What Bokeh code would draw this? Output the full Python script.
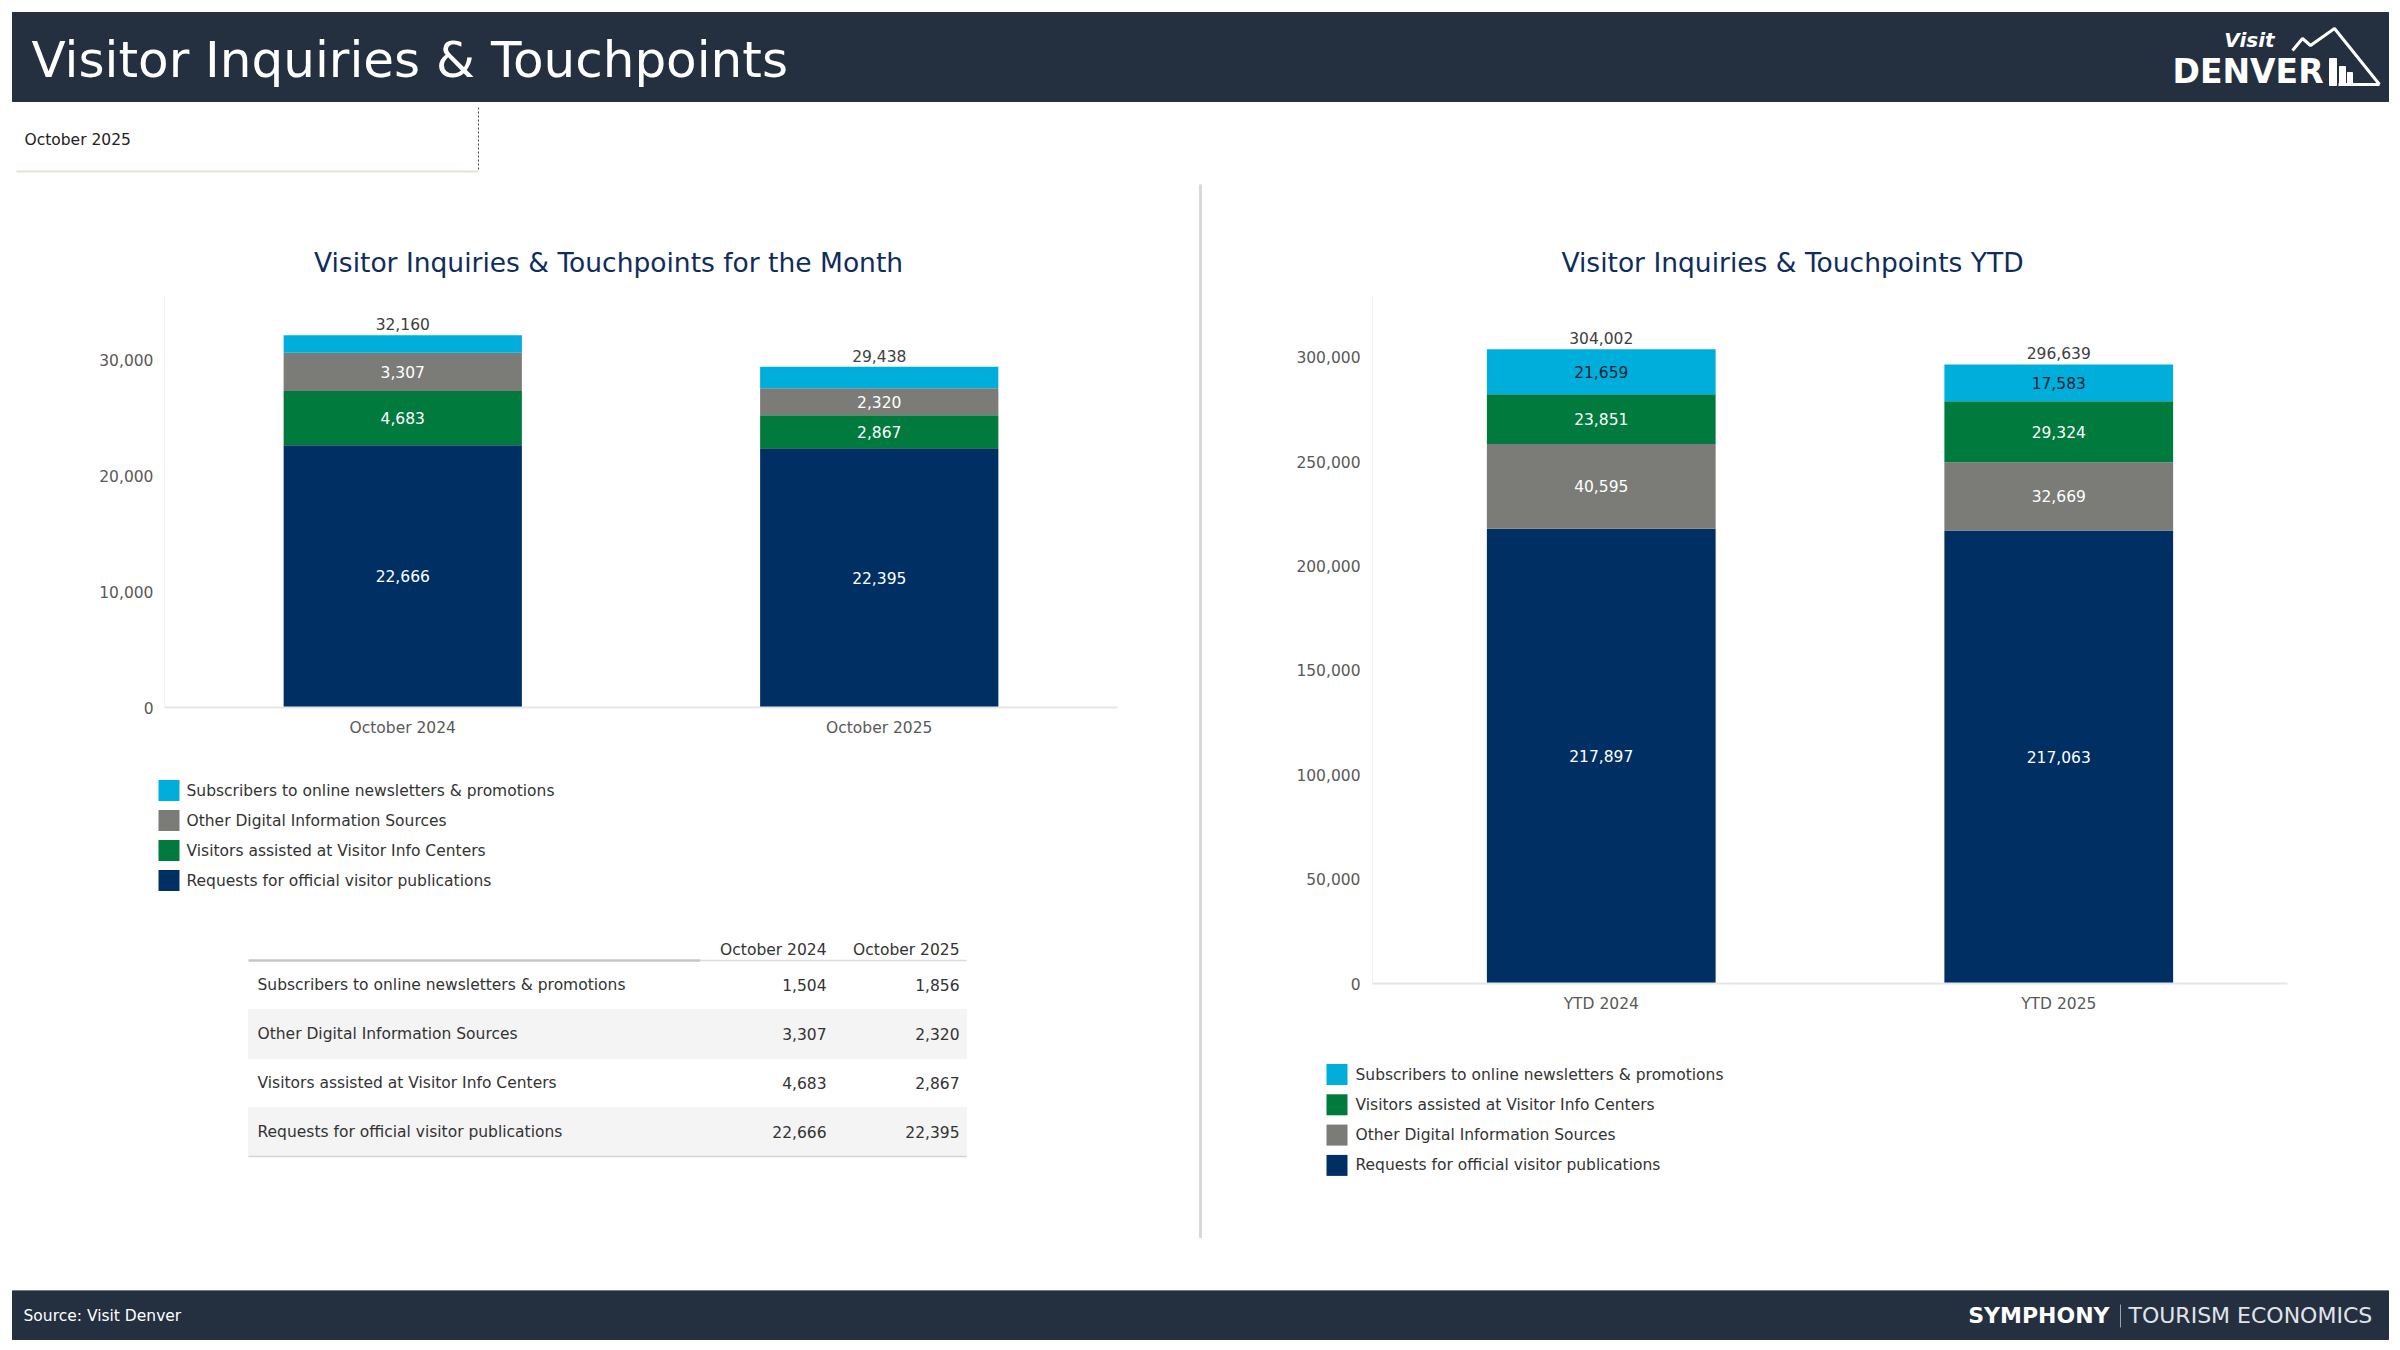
from bokeh.plotting import figure
from bokeh.layouts import column, row
from bokeh.models import Range1d, FactorRange, FixedTicker, NumeralTickFormatter, ColumnDataSource
from bokeh.core.properties import value
from bokeh.embed import file_html
from bokeh.resources import INLINE

FONT = "DejaVu Sans"

# ---------------- data ----------------
page_title = "Visitor Inquiries & Touchpoints"
period_label = "October 2025"
month_title = "Visitor Inquiries & Touchpoints for the Month"
ytd_title = "Visitor Inquiries & Touchpoints YTD"
source_text = "Source: Visit Denver"

month_categories = ["October 2024", "October 2025"]
ytd_categories = ["YTD 2024", "YTD 2025"]

series_subscribers = "Subscribers to online newsletters & promotions"
series_other = "Other Digital Information Sources"
series_visitors = "Visitors assisted at Visitor Info Centers"
series_requests = "Requests for official visitor publications"

month_subscribers = [1504, 1856]
month_other = [3307, 2320]
month_visitors = [4683, 2867]
month_requests = [22666, 22395]

ytd_subscribers = [21659, 17583]
ytd_other = [40595, 32669]
ytd_visitors = [23851, 29324]
ytd_requests = [217897, 217063]

month_ticks = [0, 10000, 20000, 30000]
ytd_ticks = [0, 50000, 100000, 150000, 200000, 250000, 300000]

series_colors = {
    series_subscribers: "#00aedb",
    series_other: "#7b7c77",
    series_visitors: "#007a3d",
    series_requests: "#003063",
}

# stacking order bottom -> top
month_stack = [(series_requests, month_requests), (series_visitors, month_visitors),
               (series_other, month_other), (series_subscribers, month_subscribers)]
ytd_stack = [(series_requests, ytd_requests), (series_other, ytd_other),
             (series_visitors, ytd_visitors), (series_subscribers, ytd_subscribers)]

table_rows = [(series_subscribers, month_subscribers), (series_other, month_other),
              (series_visitors, month_visitors), (series_requests, month_requests)]

HEADER_BG = "#242f40"
TITLE_COLOR = "#0f2d5c"
TEXT = "#333333"
TICK = "#595959"

# frame geometry (page pixels)
L_X0, L_X1, L_FL, L_FR = 0, 1198, 164, 1117
R_X0, R_X1, R_FL, R_FR = 1202, 2392, 1372, 2287


def canvas(x0, x1, y0, y1, fl=None, fr=None):
    if fl is None:
        fl, fr = x0, x1
    p = figure(width=x1 - x0, height=y1 - y0, x_range=Range1d(fl, fr), y_range=Range1d(y1, y0),
               output_backend="svg", toolbar_location=None, tools="",
               min_border_left=fl - x0, min_border_right=x1 - fr, min_border_top=0, min_border_bottom=0,
               x_axis_type=None, y_axis_type=None)
    p.outline_line_color = None
    p.background_fill_color = "white"
    p.border_fill_color = "white"
    p.grid.grid_line_color = None
    return p


def unclip(p):
    for r in p.renderers:
        r.level = "overlay"


def make_chart(cats, stack, y_end, ticks, x0, x1, fl, fr, height, mb_bottom,
               label_flags, label_colors, y_standoff):
    p = figure(width=x1 - x0, height=height, x_range=FactorRange(*cats), y_range=Range1d(0, y_end),
               output_backend="svg", toolbar_location=None, tools="",
               min_border_left=fl - x0, min_border_right=x1 - fr, min_border_top=0,
               min_border_bottom=mb_bottom)
    p.outline_line_color = None
    p.background_fill_color = "white"
    p.border_fill_color = "white"
    p.grid.grid_line_color = None
    names = [s[0] for s in stack]
    data = {"cat": cats}
    for name, vals in stack:
        data[name] = vals
    src = ColumnDataSource(data)
    p.vbar_stack(names, x="cat", width=0.5, source=src,
                 fill_color=[series_colors[n] for n in names], line_color=None)

    bottoms = [0] * len(cats)
    lx, ly, lt, lc = [], [], [], []
    for (name, vals), show, col in zip(stack, label_flags, label_colors):
        for i, c in enumerate(cats):
            if show:
                lx.append(c)
                ly.append(bottoms[i] + vals[i] / 2)
                lt.append(f"{vals[i]:,}")
                lc.append(col)
            bottoms[i] += vals[i]
    p.text(x=lx, y=ly, text=lt, text_color=lc, text_align="center", text_baseline="middle",
           text_font=value(FONT), text_font_size="15.5px")

    frame_h = height - mb_bottom
    pad = 11 * y_end / frame_h
    p.text(x=list(cats), y=[b + pad for b in bottoms], text=[f"{b:,}" for b in bottoms],
           text_color="#404040", text_align="center", text_baseline="middle",
           text_font=value(FONT), text_font_size="15.5px")

    p.yaxis.ticker = FixedTicker(ticks=ticks)
    p.yaxis.formatter = NumeralTickFormatter(format="0,0")
    p.yaxis.axis_line_color = "#f0f0f0"
    p.yaxis.major_tick_line_color = None
    p.yaxis.minor_tick_line_color = None
    p.yaxis.major_label_standoff = y_standoff
    p.xaxis.axis_line_color = "#e6e6e6"
    p.xaxis.axis_line_width = 2
    p.xaxis.major_tick_line_color = None
    p.xaxis.minor_tick_line_color = None
    p.xaxis.major_label_standoff = 5
    for ax in (p.xaxis, p.yaxis):
        ax.major_label_text_font = FONT
        ax.major_label_text_font_size = "15.5px"
        ax.major_label_text_color = TICK
    return p


# ---------------- header ----------------
header = canvas(0, 2392, 0, 184)
header.quad(left=12, right=2388, top=12, bottom=101, color=HEADER_BG)
header.text(x=[31], y=[59], text=[page_title], text_color="white", text_baseline="middle",
            text_font=value(FONT), text_font_size="50px")
header.text(x=[2249], y=[39], text=["Visit"], text_color="white", text_align="center",
            text_baseline="middle", text_font=value(FONT), text_font_size="20px",
            text_font_style="bold italic")
header.text(x=[2172], y=[71], text=["DENVER"], text_color="white", text_baseline="middle",
            text_font=value(FONT), text_font_size="33px", text_font_style="bold")
header.line(x=[2292, 2302, 2310, 2334, 2379], y=[50, 38, 45, 28, 84], line_color="white", line_width=3)
header.line(x=[2338, 2379], y=[84, 84], line_color="white", line_width=3)
header.quad(left=[2329, 2339, 2347], right=[2336, 2345, 2352], top=[58, 66, 72], bottom=[85, 85, 85],
            color="white")
header.text(x=[24], y=[139], text=[period_label], text_color="#222222", text_baseline="middle",
            text_font=value(FONT), text_font_size="15.5px")
header.line(x=[478, 478], y=[107, 171], line_color="#444444", line_width=1, line_dash="2 2")
header.line(x=[16, 478], y=[171, 171], line_color="#e2e5cf", line_width=2)

# ---------------- left column ----------------
left_title = canvas(L_X0, L_X1, 184, 295, L_FL, L_FR)
left_title.text(x=[608], y=[262], text=[month_title], text_color=TITLE_COLOR, text_align="center",
                text_baseline="middle", text_font=value(FONT), text_font_size="26.5px")
unclip(left_title)

left_chart = make_chart(month_categories, month_stack, 35600, month_ticks, L_X0, L_X1, L_FL, L_FR, 465, 53,
                        [True, True, True, False], ["white", "white", "white", "white"], 5)

left_bottom = canvas(L_X0, L_X1, 760, 1290, L_FL, L_FR)
left_legend = [s[0] for s in reversed(month_stack)]
ly = [790 + 30 * i for i in range(len(left_legend))]
left_bottom.quad(left=158, right=179, top=[y - 10.5 for y in ly], bottom=[y + 10.5 for y in ly],
                 fill_color=[series_colors[n] for n in left_legend], line_color=None)
left_bottom.text(x=186, y=ly, text=left_legend, text_color=TEXT, text_baseline="middle",
                 text_font=value(FONT), text_font_size="15.5px")

# table
t_top, row_h = 960, 49
for i in (1, 3):
    left_bottom.quad(left=248, right=966, top=t_top + row_h * i, bottom=t_top + row_h * (i + 1),
                     color="#f4f4f4")
left_bottom.line(x=[248, 700], y=[t_top, t_top], line_color="#c6c6c6", line_width=2.5)
left_bottom.line(x=[700, 966], y=[t_top, t_top], line_color="#dcdcdc", line_width=1.5)
left_bottom.line(x=[248, 966], y=[t_top + row_h * 4, t_top + row_h * 4], line_color="#d4d4d4", line_width=1.5)
col_x = [826, 959]
left_bottom.text(x=col_x, y=[949, 949], text=month_categories, text_color=TEXT, text_align="right",
                 text_baseline="middle", text_font=value(FONT), text_font_size="15.5px")
row_y = [t_top + row_h * i + row_h / 2 for i in range(len(table_rows))]
left_bottom.text(x=257, y=row_y, text=[r[0] for r in table_rows], text_color=TEXT,
                 text_baseline="middle", text_font=value(FONT), text_font_size="15.5px")
for j, cx in enumerate(col_x):
    left_bottom.text(x=cx, y=row_y, text=[f"{r[1][j]:,}" for r in table_rows], text_color=TEXT,
                     text_align="right", text_baseline="middle", text_font=value(FONT),
                     text_font_size="15.5px")
unclip(left_bottom)

left_col = column(left_title, left_chart, left_bottom, spacing=0)

# ---------------- divider ----------------
divider = canvas(1198, 1202, 184, 1290)
divider.quad(left=1199, right=1201.5, top=184, bottom=1237, color="#d9d9d9")

# ---------------- right column ----------------
right_title = canvas(R_X0, R_X1, 184, 295, R_FL, R_FR)
right_title.text(x=[1792], y=[262], text=[ytd_title], text_color=TITLE_COLOR, text_align="center",
                 text_baseline="middle", text_font=value(FONT), text_font_size="26.5px")
unclip(right_title)

right_chart = make_chart(ytd_categories, ytd_stack, 329700, ytd_ticks, R_X0, R_X1, R_FL, R_FR, 728, 40,
                         [True, True, True, True], ["white", "white", "white", "#1b2333"], 6)

right_bottom = canvas(R_X0, R_X1, 1023, 1290, R_FL, R_FR)
right_legend = [s[0] for s in reversed(ytd_stack)]
ry = [1074 + 30.3 * i for i in range(len(right_legend))]
right_bottom.quad(left=1326, right=1347, top=[y - 10.5 for y in ry], bottom=[y + 10.5 for y in ry],
                  fill_color=[series_colors[n] for n in right_legend], line_color=None)
right_bottom.text(x=1355, y=ry, text=right_legend, text_color=TEXT, text_baseline="middle",
                  text_font=value(FONT), text_font_size="15.5px")
unclip(right_bottom)

right_col = column(right_title, right_chart, right_bottom, spacing=0)

# ---------------- footer ----------------
footer = canvas(0, 2392, 1290, 1340)
footer.quad(left=12, right=2388, top=1290, bottom=1339, color=HEADER_BG)
footer.text(x=[23], y=[1315], text=[source_text], text_color="white", text_baseline="middle",
            text_font=value(FONT), text_font_size="15.5px")
footer.text(x=[2109], y=[1315], text=["SYMPHONY"], text_color="white", text_align="right",
            text_baseline="middle", text_font=value(FONT), text_font_size="22px", text_font_style="bold")
footer.line(x=[2120, 2120], y=[1304, 1327], line_color="#9aa3b0", line_width=1)
footer.text(x=[2128], y=[1315], text=["TOURISM ECONOMICS"], text_color="#e0e4ea",
            text_baseline="middle", text_font=value(FONT), text_font_size="22px")

layout = column(header, row(left_col, divider, right_col, spacing=0), footer, spacing=0)

open("out.html", "w").write(file_html(layout, INLINE))
